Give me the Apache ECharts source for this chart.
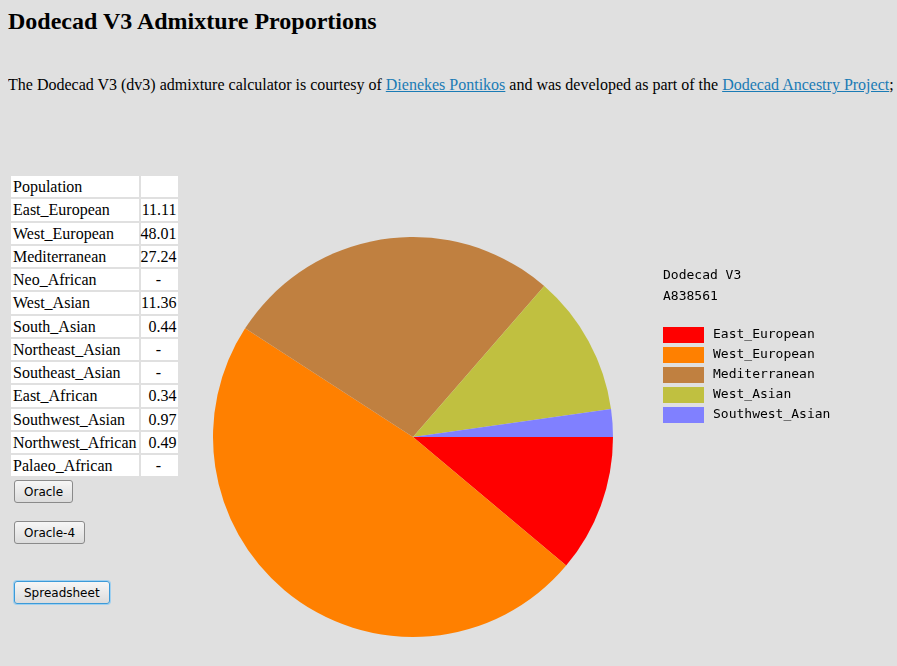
<!DOCTYPE html>
<html>
	<head>
		<title>Dodecad V3 Admixture Proportions</title>
        <meta charset="utf-8">
        <script src="https://cdn.jsdelivr.net/npm/echarts@6/dist/echarts.min.js"></script>
        <style>
            body { margin: 0; background: #e0e0e0; font-family: "Liberation Serif", serif; color: #000; }
            #title { position: absolute; left: 8px; top: 6px; font-size: 24px; line-height: 30px; font-weight: bold; white-space: nowrap; }
            #intro { position: absolute; left: 8px; top: 75px; width: 889px; font-size: 16px; line-height: 20px; white-space: nowrap; overflow: hidden; }
            #intro a { color: #1a7bb5; }
            #pop { position: absolute; left: 9px; top: 174px; border-spacing: 2px; font-size: 16px; }
            #pop td { background: #fff; height: 21.25px; padding: 0 2px; line-height: 21px; box-sizing: border-box; }
            #pop td.v { width: 37px; padding: 0 1px 0 0; text-align: right; }
            #pop td.dash { text-align: center; }
            .btn { position: absolute; left: 14px; height: 23px; font-family: "DejaVu Sans", sans-serif; font-size: 12px;
                   background: linear-gradient(#f6f6f6, #dcdcdc); border: 1px solid #8a8a8a; border-radius: 3px; padding: 0 9px; }
            #spread { border-color: #3c9ad8; box-shadow: 0 0 0 1px #9fd0f0; }
            #main { position: absolute; left: 213px; top: 237px; width: 684px; height: 429px; }
        </style>
	</head>

	<body>
        <div id="title">Dodecad V3 Admixture Proportions</div>
        <div id="intro">The Dodecad V3 (dv3) admixture calculator is courtesy of <a href="#">Dienekes Pontikos</a> and was developed as part of the <a href="#">Dodecad Ancestry Project</a>; the calculator is used here with permission.</div>
        <table id="pop"></table>
        <button class="btn" style="top:480px;">Oracle</button>
        <button class="btn" style="top:521px;">Oracle-4</button>
        <button class="btn" id="spread" style="top:581px;">Spreadsheet</button>
        <div id="main"></div>
	</body>
</html>

<script type="text/javascript">
    // table contents
    var populations = ['East_European', 'West_European', 'Mediterranean', 'Neo_African', 'West_Asian', 'South_Asian',
                       'Northeast_Asian', 'Southeast_Asian', 'East_African', 'Southwest_Asian', 'Northwest_African', 'Palaeo_African'];
    var percents = ['11.11', '48.01', '27.24', '-', '11.36', '0.44', '-', '-', '0.34', '0.97', '0.49', '-'];

    // pie slices (as drawn)
    var pieNames = ['East_European', 'West_European', 'Mediterranean', 'West_Asian', 'Southwest_Asian'];
    var pieValues = [11.11, 48.01, 27.24, 11.36, 2.24];

    var kit = 'A838561';

    var table = document.getElementById('pop');
    var html = '<tr><td>Population</td><td class="v"></td></tr>';
    populations.forEach(function(p, i) {
        var cls = percents[i] == '-' ? 'v dash' : 'v';
        html += '<tr><td>' + p + '</td><td class="' + cls + '">' + percents[i] + '</td></tr>';
    });
    table.innerHTML = html;

    var myChart = echarts.init(document.getElementById('main'));
    var option = {
        animation: false,
        color: ['#ff0000', '#ff8000', '#c08040', '#c0c040', '#8080ff'],
        title: {
            text: 'Dodecad V3\n' + kit,
            left: 450,
            top: 28,
            padding: 0,
            textStyle: { fontFamily: 'DejaVu Sans Mono', fontSize: 13, fontWeight: 'normal', color: '#000', lineHeight: 21 }
        },
        legend: {
            orient: 'vertical',
            left: 450,
            top: 90,
            padding: 0,
            icon: 'rect',
            itemWidth: 41,
            itemHeight: 16,
            itemGap: 4,
            selectedMode: false,
            data: pieNames,
            textStyle: { fontFamily: 'DejaVu Sans Mono', fontSize: 13, color: '#000', padding: [0, 0, 0, 4] }
        },
        series: [{
            type: 'pie',
            center: [200, 200],
            radius: 200,
            startAngle: 0,
            clockwise: true,
            silent: true,
            label: { show: false },
            labelLine: { show: false },
            itemStyle: { borderWidth: 0 },
            data: pieNames.map(function(n, i) { return { name: n, value: pieValues[i] }; })
        }]
    };
    myChart.setOption(option);
</script>
